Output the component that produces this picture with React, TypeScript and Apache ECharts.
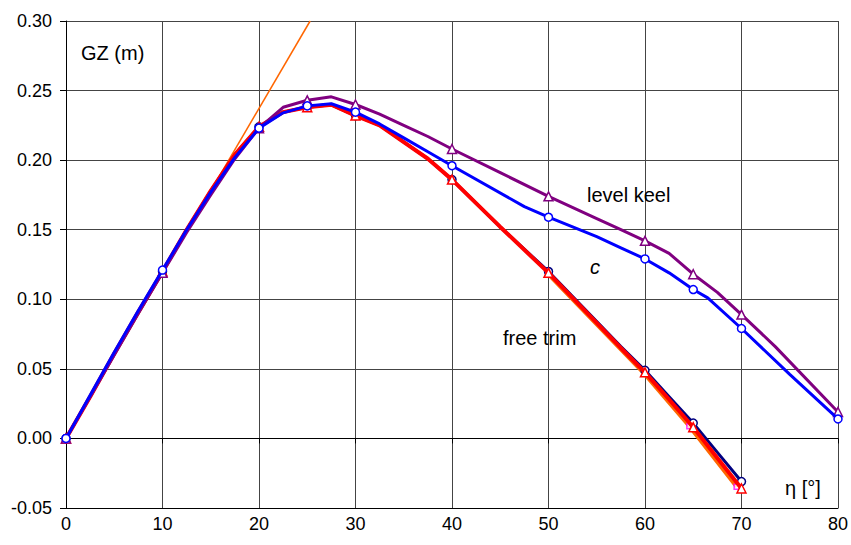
import React, { useEffect, useRef } from "react";
import * as echarts from "echarts";

// Heel angle (deg) and righting lever GZ (m) for each stability curve
const keelAngles = [0, 2.5, 5, 7.5, 10, 12.5, 15, 17.5, 20, 22.5, 25, 27.5, 30, 32.5, 35, 37.5, 40, 45, 50, 55, 57.5, 60, 62.5, 65, 67.5, 70, 73.5, 80];
const keelGZ = [0, 0.030, 0.060, 0.090, 0.119, 0.148, 0.175, 0.201, 0.223, 0.238, 0.243, 0.2455, 0.240, 0.233, 0.225, 0.217, 0.208, 0.191, 0.174, 0.158, 0.150, 0.142, 0.133, 0.118, 0.105, 0.089, 0.066, 0.019];

const cAngles = [0, 2.5, 5, 7.5, 10, 12.5, 15, 17.5, 20, 22.5, 25, 27.5, 30, 32.5, 35, 37.5, 40, 47.5, 50, 55, 57.5, 60, 62.5, 65, 66.5, 70, 75, 80];
const cGZ = [0, 0.031, 0.062, 0.092, 0.121, 0.150, 0.177, 0.202, 0.223, 0.234, 0.239, 0.2405, 0.2345, 0.226, 0.216, 0.206, 0.196, 0.1666, 0.159, 0.145, 0.137, 0.129, 0.119, 0.107, 0.101, 0.079, 0.046, 0.014];

const trimAngles = [0, 2.5, 5, 7.5, 10, 12.5, 15, 17.5, 20, 22.5, 25, 27.5, 30, 32.5, 35, 37.5, 40, 45, 50, 52.5, 55, 57.5, 60, 62.5, 65, 67.5, 70];
const trimGZ = [0, 0.030, 0.061, 0.091, 0.120, 0.150, 0.178, 0.204, 0.224, 0.2345, 0.238, 0.2398, 0.232, 0.225, 0.213, 0.201, 0.186, 0.152, 0.119, 0.101, 0.083, 0.065, 0.0475, 0.028, 0.008, -0.014, -0.036];

const navyAngles = [0, 2.5, 5, 7.5, 10, 12.5, 15, 17.5, 20, 22.5, 25, 27.5, 30, 32.5, 35, 37.5, 40, 45, 50, 52.5, 55, 57.5, 60, 62.5, 65, 67.5, 70];
const navyGZ = [0, 0.030, 0.061, 0.091, 0.120, 0.150, 0.178, 0.204, 0.224, 0.2345, 0.238, 0.2398, 0.232, 0.225, 0.213, 0.201, 0.186, 0.152, 0.120, 0.102, 0.084, 0.066, 0.049, 0.030, 0.011, -0.010, -0.031];

const altAngles = [50, 55, 60, 64.6, 69.5];
const altGZ = [0.118, 0.082, 0.046, 0.0088, -0.0348];
const altMarked = [64.6, 69.5];

// Initial GM tangent
const tangentAngles = [0, 25.3];
const tangentGZ = [0, 0.30];

const markedAngles = [0, 10, 20, 25, 30, 40, 50, 60, 65, 70, 80];

const xTicks = [0, 80, 10];
const yTicks = [-0.05, 0.30, 0.05];

const FONT = '"Liberation Sans", Arial, sans-serif';

function pts(xs: number[], ys: number[], marked: number[]) {
  return xs.map((x, i) =>
    marked.includes(x) ? [x, ys[i]] : { value: [x, ys[i]], symbol: "none" }
  );
}

function curve(name: string, xs: number[], ys: number[], color: string, width: number, symbol: string, size: number, z: number, marked = markedAngles) {
  return {
    name,
    type: "line",
    data: pts(xs, ys, marked),
    z,
    symbol,
    symbolSize: size,
    showAllSymbol: true,
    lineStyle: { color, width },
    itemStyle: { color: "#ffffff", borderColor: color, borderWidth: 1.5 },
  };
}

export default function App() {
  const ref = useRef<HTMLDivElement>(null);
  useEffect(() => {
    const chart = echarts.init(ref.current!, null, { renderer: "svg" });
    const txt = (text: string, x: number, y: number, style: any = {}) => ({
      type: "text",
      x,
      y,
      z: 100,
      style: {
        text,
        fill: "#000",
        font: `20px ${FONT}`,
        verticalAlign: "middle",
        align: "left",
        ...style,
      },
    });
    chart.setOption({
      animation: false,
      backgroundColor: "#ffffff",
      grid: { left: 66, right: 12, top: 21, bottom: 37 },
      xAxis: [
        {
          type: "value",
          min: xTicks[0],
          max: xTicks[1],
          interval: xTicks[2],
          axisLine: { show: true, onZero: false, lineStyle: { color: "#000", width: 1 } },
          axisTick: { show: false },
          axisLabel: { color: "#000", fontSize: 18, fontFamily: FONT, margin: 7 },
          splitLine: { show: true, lineStyle: { color: "#444", width: 1 } },
        },
        {
          type: "value",
          min: xTicks[0],
          max: xTicks[1],
          interval: xTicks[2],
          position: "bottom",
          axisLine: { show: true, onZero: true, onZeroAxisIndex: 0, lineStyle: { color: "#000", width: 1 } },
          axisTick: { show: true, inside: false, length: 5, lineStyle: { color: "#000" } },
          axisLabel: { show: false },
          splitLine: { show: false },
        },
      ],
      yAxis: {
        type: "value",
        min: yTicks[0],
        max: yTicks[1],
        interval: yTicks[2],
        axisLine: { show: true, lineStyle: { color: "#000", width: 1 } },
        axisTick: { show: true, inside: false, length: 6, lineStyle: { color: "#000" } },
        axisLabel: {
          color: "#000",
          fontSize: 18,
          fontFamily: FONT,
          margin: 14,
          formatter: (v: number) => v.toFixed(2),
        },
        splitLine: { show: true, lineStyle: { color: "#444", width: 1 } },
      },
      series: [
        {
          name: "GM tangent",
          type: "line",
          data: tangentAngles.map((x, i) => [x, tangentGZ[i]]),
          symbol: "none",
          z: 1,
          lineStyle: { color: "#FF6600", width: 1.5 },
        },
        curve("free trim (alt)", altAngles, altGZ, "#FF6600", 4, "none", 0, 2, []),
        {
          name: "free trim points",
          type: "scatter",
          data: altAngles.filter((x) => altMarked.includes(x)).map((x) => [x, altGZ[altAngles.indexOf(x)]]),
          symbol: "rect",
          symbolSize: 5,
          z: 3,
          itemStyle: { color: "#ffffff", borderColor: "#FF00FF", borderWidth: 1.5 },
        },
        curve("free trim c", navyAngles, navyGZ, "#000080", 3, "circle", 8, 4),
        curve("free trim", trimAngles, trimGZ, "#FF0000", 4, "triangle", 9, 5),
        curve("level keel", keelAngles, keelGZ, "#800080", 3, "triangle", 9, 6),
        curve("c", cAngles, cGZ, "#0000FF", 3, "circle", 8, 7),
      ],
      graphic: [
        txt("GZ (m)", 81, 52.5),
        txt("level keel", 587, 195),
        txt("c", 590, 266.5, { font: `italic 20px ${FONT}` }),
        txt("free trim", 503, 338),
        txt("η [°]", 785, 488),
      ],
    });
    return () => chart.dispose();
  }, []);
  return (
    <div
      ref={ref}
      style={{ position: "absolute", left: 0, top: 0, width: 851, height: 545 }}
    />
  );
}
